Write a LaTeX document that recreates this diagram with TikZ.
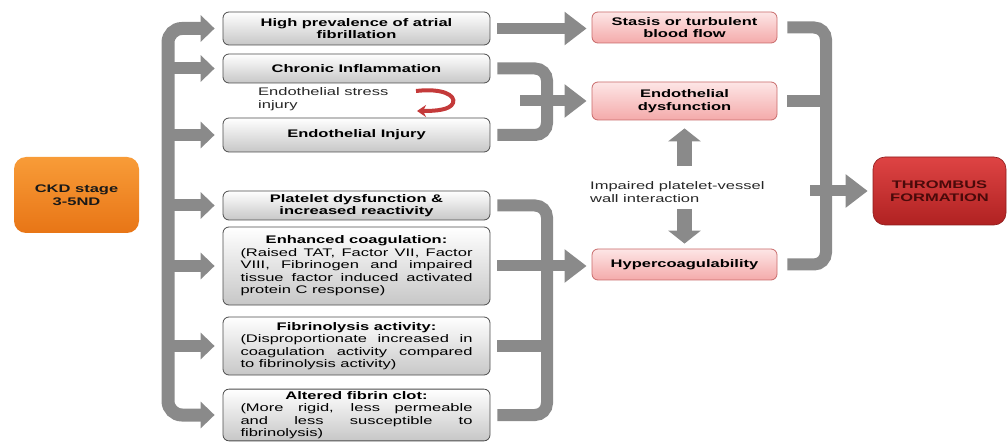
\documentclass[tikz,border=0pt]{standalone}
\usepackage{fontspec}
\setmainfont{Liberation Sans}[FakeStretch=1.5]
\usetikzlibrary{arrows.meta,calc}
\definecolor{garr}{HTML}{8A8A8A}
\definecolor{pinktop}{HTML}{FDE6E6}
\definecolor{pinkbot}{HTML}{F4AAAA}
\definecolor{pinkline}{HTML}{C86A6A}
\definecolor{ckdtop}{HTML}{F89C38}
\definecolor{ckdbot}{HTML}{E87516}
\definecolor{thtop}{HTML}{DE4444}
\definecolor{thbot}{HTML}{B02222}
\definecolor{thtext}{HTML}{4A0A0A}
\definecolor{redarr}{HTML}{C43A3A}
\newcommand{\dfont}{\fontsize{11}{12.5}\selectfont}
\tikzset{
  lbox/.style={draw=black!70, line width=0.8pt, rounded corners=6pt, top color=white, bottom color=black!22, minimum width=267pt, inner sep=2pt, align=center},
  lbody/.style={lbox, text width=232pt, align=justify},
  pbox/.style={draw=pinkline, line width=0.8pt, rounded corners=6pt, top color=pinktop, bottom color=pinkbot, minimum width=185pt, inner sep=2pt, align=center, font=\dfont\bfseries},
  gline/.style={draw=garr, line width=12pt},
  garrL/.style={draw=garr, line width=12pt, -{Triangle[length=14pt,width=26pt]}, shorten >=8pt},
  garrR/.style={draw=garr, line width=11pt, -{Triangle[length=22pt,width=32pt]}, shorten >=5pt},
  garrV/.style={draw=garr, line width=15pt, -{Triangle[length=13pt,width=32pt]}},
  rarrow/.style={draw=redarr, line width=4pt, -{Stealth[length=9pt,width=12pt]}},
  plain/.style={align=left, inner sep=0pt}
}
\begin{document}
\begin{tikzpicture}[x=1pt, y=-1pt, font=\dfont]
\useasboundingbox (0,0) rectangle (1008,443);
\tolerance=10000 \hbadness=10000

% source and target
\node[draw=none, rounded corners=12pt, top color=ckdtop, bottom color=ckdbot, minimum width=125pt, minimum height=76pt, align=center, font=\dfont\bfseries, text=black!90] (ckd) at (76.5,195) {CKD stage\\3-5ND};
\node[draw=thbot!80!black, line width=0.6pt, rounded corners=12pt, top color=thtop, bottom color=thbot, minimum width=133pt, minimum height=68pt, align=center, font=\dfont\bfseries, text=thtext] (th) at (939.5,191) {THROMBUS\\FORMATION};

% left column
\node[lbox, minimum height=33pt] (hp) at (356.5,28.5) {\bfseries High prevalence of atrial\\\bfseries fibrillation};
\node[lbox, minimum height=29pt] (ci) at (356.5,68.5) {\bfseries Chronic Inflammation};
\node[lbox, minimum height=34pt] (ei) at (356.5,135) {\bfseries Endothelial Injury};
\node[lbox, minimum height=29pt] (pd) at (356.5,205.5) {\bfseries Platelet dysfunction \&\\\bfseries increased reactivity};
\node[lbody, minimum height=78pt] (ec) at (356.5,266) {{\centering\bfseries Enhanced coagulation:\par}(Raised TAT, Factor VII, Factor\linebreak VIII, Fibrinogen and impaired\linebreak tissue factor induced activated\linebreak protein C response)};
\node[lbody, minimum height=58pt] (fa) at (356.5,346) {{\centering\bfseries Fibrinolysis activity:\par}(Disproportionate increased in\linebreak coagulation activity compared\linebreak to fibrinolysis activity)};
\node[lbody, minimum height=50pt] (af) at (356.5,415) {{\centering\bfseries Altered fibrin clot:\par}(More rigid, less permeable\linebreak and less susceptible to\linebreak fibrinolysis)};

% middle column
\node[pbox, minimum height=31pt] (st) at (684.5,27.5) {Stasis or turbulent\\blood flow};
\node[pbox, minimum height=38pt] (ed) at (684.5,101) {Endothelial\\dysfunction};
\node[pbox, minimum height=31pt] (hc) at (684.5,264.5) {Hypercoagulability};

% free texts
\node[plain, anchor=west, text=black!85] (esi) at (258,99) {Endothelial stress\\injury};
\node[plain, anchor=west, text=black!85] (ip) at (590,192) {Impaired platelet-vessel\\wall interaction};

% bar positions
\coordinate (tk) at (168,0);
\coordinate (bx1) at (547,0);
\coordinate (bx2) at (547,0);
\coordinate (bx3) at (826,0);
\coordinate (u1) at (684.5,166);
\coordinate (d1) at (684.5,209);
\coordinate (r1) at (416,91);
\coordinate (r2) at (417,111);

% left trunk
\draw[garrL, line width=13pt, {Triangle[length=14pt,width=26pt]}-{Triangle[length=14pt,width=26pt]}, shorten <=8pt, rounded corners=14pt] (hp.west) -| (tk |- af.west) -- (af.west);
\foreach \b in {ci,ei,pd,ec,fa}{
  \draw[garrL] (tk |- \b.west) -- (\b.west);
}

% red curved arrow
\draw[rarrow] (r1) .. controls (442,88) and (456,95) .. (453,103) .. controls (450,110) and (436,111) .. (r2);

% upper brace
\draw[gline, rounded corners=12pt] ([xshift=7pt]ci.east) -| (bx1 |- ei.east) -- ([xshift=7pt]ei.east);
\draw[garrR] ([xshift=-27pt]bx1 |- ed.west) -- (ed.west);
\draw[garrR] ([xshift=7pt]hp.east) -- (hp.east -| st.west);

% lower brace
\draw[gline, rounded corners=12pt] ([xshift=7pt]pd.east) -| (bx2 |- af.east) -- ([xshift=7pt]af.east);
\draw[gline] ([xshift=7pt]fa.east) -- (bx2 |- fa.east);
\draw[garrR] ([xshift=7pt]ec.east) -- (ec.east -| hc.west);

% vertical arrows
\draw[garrV, shorten >=8pt] (u1) -- (ed.south);
\draw[garrV, shorten >=5pt] (d1) -- (hc.north);

% right brace
\draw[gline, rounded corners=12pt] ([xshift=10pt]st.east) -| (bx3 |- hc.east) -- ([xshift=10pt]hc.east);
\draw[gline] ([xshift=10pt]ed.east) -- (bx3 |- ed.east);
\draw[garrR] ([xshift=-16pt]bx3 |- th.west) -- (th.west);
\end{tikzpicture}
\end{document}
